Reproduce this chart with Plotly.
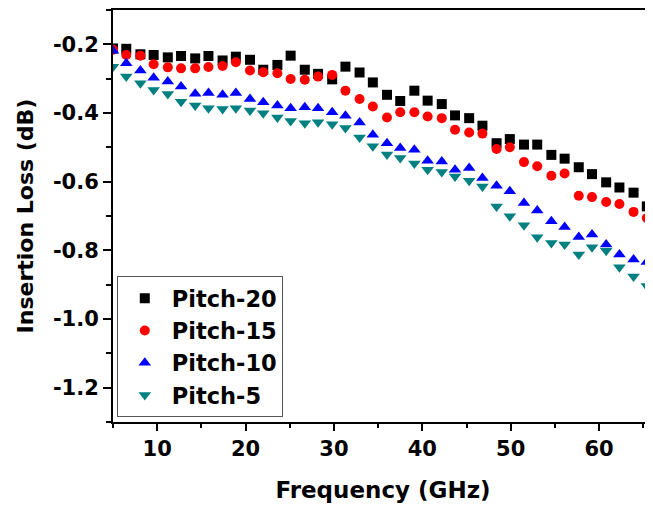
import plotly.graph_objects as go

# frequency points (GHz)
freq = [5.0, 6.5, 8.1, 9.6, 11.2, 12.7, 14.3, 15.8, 17.4, 18.9,
        20.5, 22.0, 23.6, 25.1, 26.7, 28.2, 29.8, 31.3, 32.9, 34.4,
        36.0, 37.5, 39.1, 40.6, 42.2, 43.7, 45.3, 46.8, 48.4, 49.9,
        51.5, 53.0, 54.6, 56.1, 57.7, 59.2, 60.8, 62.3, 63.9, 65.4]

pitch_20 = [-0.212, -0.213, -0.229, -0.231, -0.238, -0.234, -0.241, -0.234, -0.247, -0.236,
            -0.245, -0.274, -0.260, -0.233, -0.274, -0.286, -0.302, -0.265, -0.282, -0.311,
            -0.347, -0.365, -0.335, -0.364, -0.374, -0.407, -0.415, -0.437, -0.488, -0.476,
            -0.492, -0.492, -0.522, -0.533, -0.558, -0.578, -0.602, -0.617, -0.632, -0.672]

pitch_15 = [-0.216, -0.231, -0.233, -0.258, -0.267, -0.270, -0.270, -0.266, -0.263, -0.252,
            -0.276, -0.281, -0.284, -0.301, -0.303, -0.294, -0.289, -0.335, -0.359, -0.381,
            -0.413, -0.398, -0.398, -0.410, -0.415, -0.449, -0.457, -0.460, -0.505, -0.500,
            -0.543, -0.555, -0.583, -0.576, -0.641, -0.645, -0.659, -0.665, -0.688, -0.706]

pitch_10 = [-0.219, -0.255, -0.276, -0.297, -0.308, -0.323, -0.344, -0.342, -0.347, -0.342,
            -0.359, -0.369, -0.378, -0.386, -0.383, -0.386, -0.398, -0.408, -0.428, -0.463,
            -0.488, -0.502, -0.507, -0.539, -0.541, -0.565, -0.560, -0.589, -0.612, -0.628,
            -0.662, -0.684, -0.715, -0.732, -0.761, -0.754, -0.783, -0.812, -0.827, -0.834]

pitch_5 = [-0.265, -0.294, -0.313, -0.333, -0.345, -0.367, -0.378, -0.386, -0.388, -0.386,
           -0.393, -0.401, -0.413, -0.423, -0.430, -0.427, -0.433, -0.444, -0.471, -0.497,
           -0.521, -0.531, -0.547, -0.565, -0.572, -0.585, -0.597, -0.614, -0.672, -0.701,
           -0.727, -0.762, -0.779, -0.783, -0.812, -0.791, -0.801, -0.849, -0.876, -0.904]

names = ["Pitch-20", "Pitch-15", "Pitch-10", "Pitch-5"]
x_ticks = [10, 20, 30, 40, 50, 60]
x_ticklabels = ["10", "20", "30", "40", "50", "60"]
y_ticks = [-0.2, -0.4, -0.6, -0.8, -1.0, -1.2]
y_ticklabels = ["-0.2", "-0.4", "-0.6", "-0.8", "-1.0", "-1.2"]

FONT = "DejaVu Sans"
styles = [("square", "#000000", 10), ("circle", "#ff0000", 10),
          ("triangle-up", "#0000ff", 11), ("triangle-down", "#008080", 11)]

fig = go.Figure()
for name, values, (symbol, color, size) in zip(names, [pitch_20, pitch_15, pitch_10, pitch_5], styles):
    fig.add_trace(go.Scatter(x=freq, y=values, mode="markers", name=name,
                             marker=dict(symbol=symbol, color=color, size=size)))

axis_font = dict(family=FONT, size=21, color="black", weight="bold")
fig.update_xaxes(range=[5, 66.1], tickvals=x_ticks, ticktext=x_ticklabels,
                 ticks="outside", ticklen=7, tickwidth=2, tickcolor="black",
                 minor=dict(dtick=5, tick0=0, ticks="outside", ticklen=4, tickwidth=2, tickcolor="black"),
                 showline=True, linewidth=2, linecolor="black", mirror=True,
                 showgrid=False, zeroline=False, tickfont=axis_font,
                 title=dict(text="Frequency (GHz)", font=dict(family=FONT, size=23, color="black", weight="bold"),
                            standoff=22))
fig.update_yaxes(range=[-1.3, -0.1], tickvals=y_ticks, ticktext=y_ticklabels,
                 ticks="outside", ticklen=8, tickwidth=2, tickcolor="black",
                 minor=dict(dtick=0.1, tick0=0, ticks="outside", ticklen=5, tickwidth=2, tickcolor="black"),
                 showline=True, linewidth=2, linecolor="black", mirror=False,
                 showgrid=False, zeroline=False, tickfont=axis_font,
                 title=dict(text="Insertion Loss (dB)", font=dict(family=FONT, size=22, color="black", weight="bold"),
                            standoff=13))
# the page body adds an 8px margin, so the figure is 8px smaller than the window
fig.update_layout(width=645, height=500, template="plotly_white",
                  plot_bgcolor="white", paper_bgcolor="white",
                  margin=dict(l=105, r=0, t=0, b=86),
                  legend=dict(x=0.007, y=0.012, xanchor="left", yanchor="bottom",
                              bgcolor="white", bordercolor="#555555", borderwidth=1,
                              font=dict(family=FONT, size=22.5, color="black", weight="bold"),
                              itemwidth=44))
fig.write_html("out.html")
